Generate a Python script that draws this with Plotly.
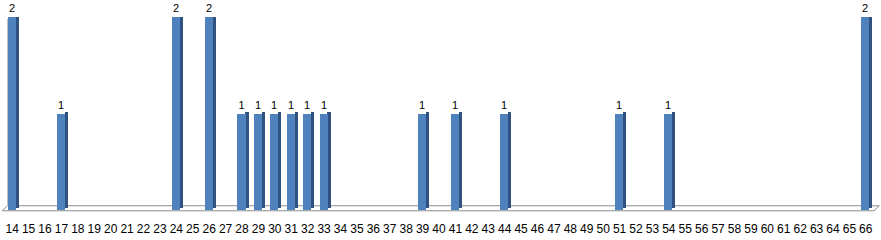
import plotly.graph_objects as go

categories = list(range(14, 67))
counts = {14: 2, 17: 1, 24: 2, 26: 2, 28: 1, 29: 1, 30: 1, 31: 1, 32: 1, 33: 1,
          39: 1, 41: 1, 44: 1, 51: 1, 54: 1, 66: 2}
values = [counts.get(c, 0) for c in categories]
tick_labels = [str(c) for c in categories]

bx = [c for c, v in zip(categories, values) if v > 0]
bv = [v for v in values if v > 0]

FRONT = "#4F81BD"
SIDE = "#2F5281"

fig = go.Figure()
# side face (depth)
fig.add_trace(go.Bar(x=bx, y=bv, width=0.2, offset=0.2,
                     marker=dict(color=SIDE, line=dict(width=0)), hoverinfo="skip",
                     base=0.02))
# front face
fig.add_trace(go.Bar(x=bx, y=bv, width=0.5, offset=-0.28,
                     marker=dict(color=FRONT, line=dict(width=0)),
                     text=[str(v) for v in bv], textposition="outside",
                     textfont=dict(family="Liberation Sans", size=11, color="#000000"),
                     cliponaxis=False))

fig.update_layout(
    width=881, height=240,
    margin=dict(l=4, r=7, t=17, b=28),
    paper_bgcolor="white", plot_bgcolor="white",
    barmode="overlay", showlegend=False,
    bargap=0,
    xaxis=dict(range=[13.5, 66.5], tickmode="array", tickvals=categories,
               ticktext=tick_labels, showgrid=False, zeroline=False,
               showline=False, ticks="", ticklen=0, ticklabelstandoff=10,
               tickfont=dict(family="Liberation Sans", size=12, color="#000000")),
    yaxis=dict(range=[0, 2.0], showticklabels=False, showgrid=False,
               zeroline=False, showline=False),
)

# 3D floor and back wall outlines (paper coordinates, not clipped)
GRAY = "#8C8C8C"
fig.add_shape(type="path", xref="paper", yref="paper",
              path="M 0.004,0.022 L 1.006,0.022 L 1.0,-0.004 L -0.002,-0.004 Z",
              line=dict(color=GRAY, width=1), fillcolor="rgba(0,0,0,0)", layer="below")
fig.add_shape(type="line", xref="paper", yref="paper", x0=0.004, x1=0.004, y0=0.022, y1=0.99,
              line=dict(color="#C0C0C0", width=1), layer="below")

fig.write_html("out.html")
